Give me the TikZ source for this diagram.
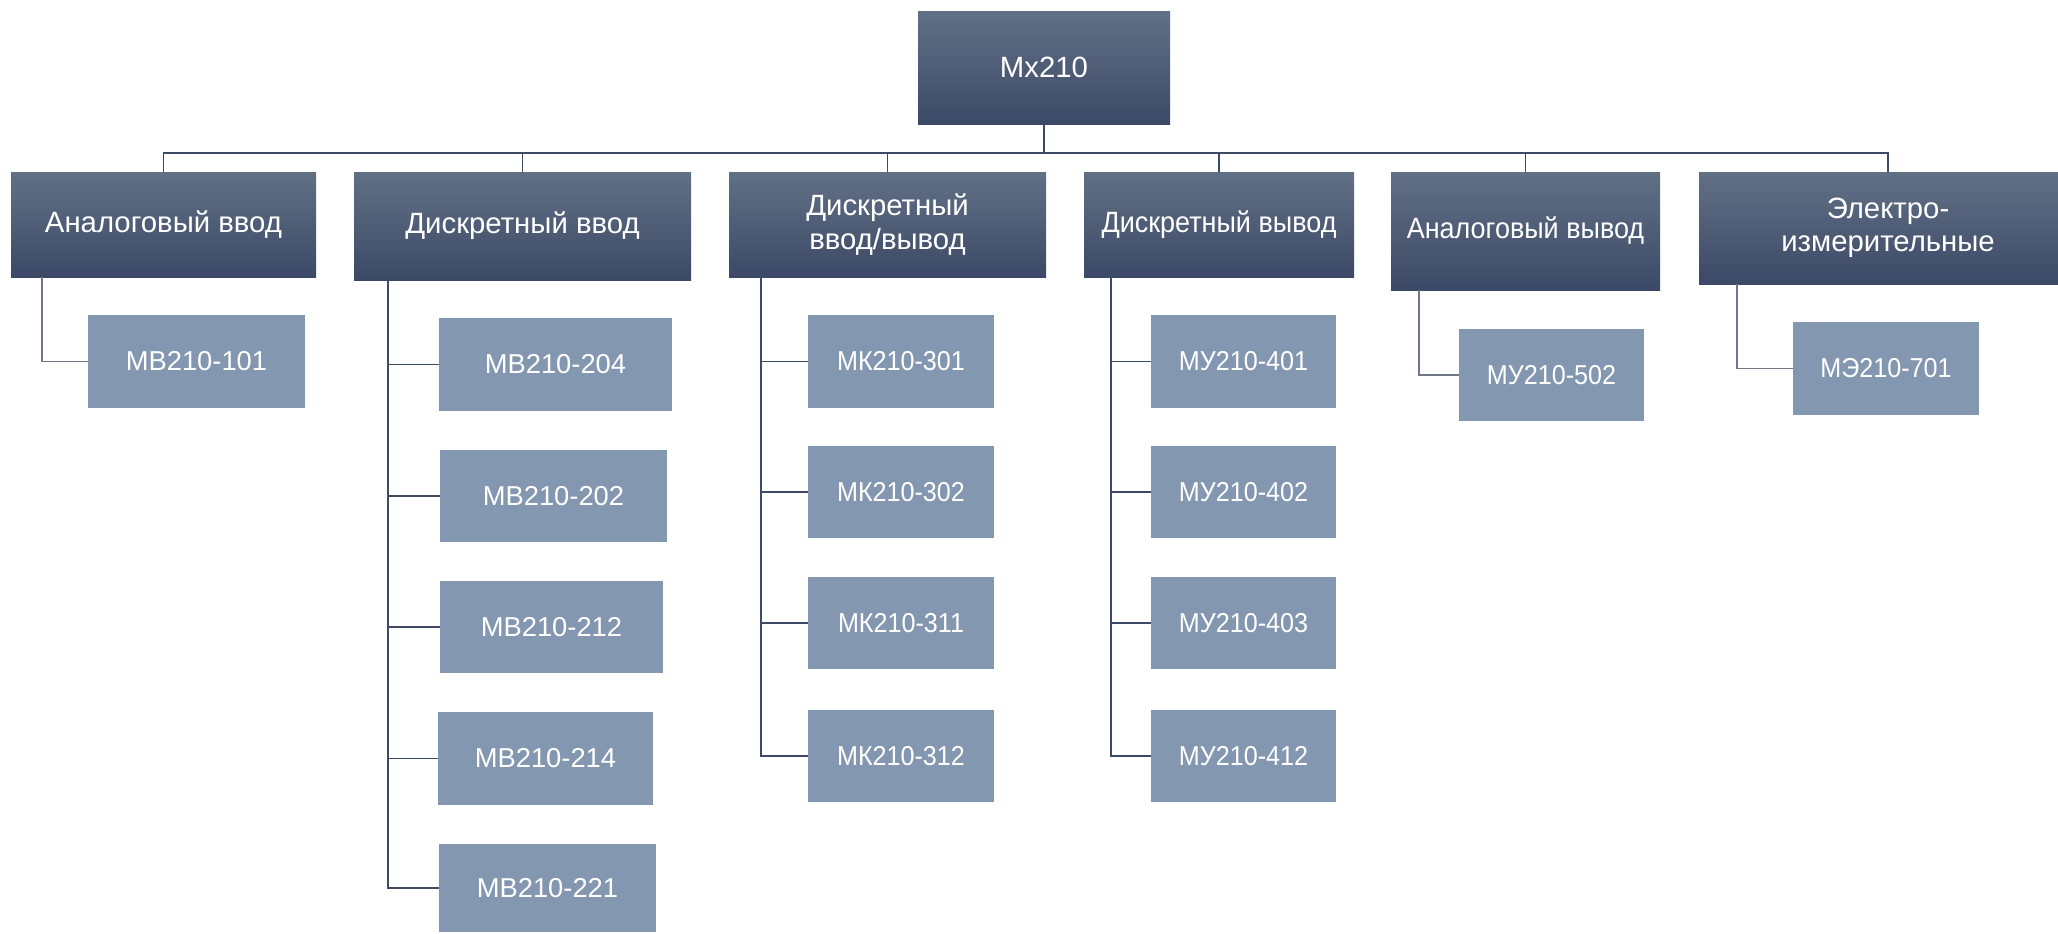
\documentclass[tikz,border=0pt]{standalone}
\usepackage{fontspec}
\setmainfont{Liberation Sans}
\newfontfamily\narrowfont[FakeStretch=0.92]{Liberation Sans}
\usepackage{tikz}
\definecolor{headtop}{HTML}{627086}
\definecolor{headbot}{HTML}{3B4966}
\definecolor{modfill}{HTML}{8497B0}
\definecolor{linedark}{HTML}{3D4A63}
\definecolor{linegray}{HTML}{6E7888}

\begin{document}
\begin{tikzpicture}[x=0.75pt, y=-0.75pt,
    every node/.style={inner sep=0pt, text=white, align=center},
    headbox/.style={top color=headtop, bottom color=headbot, draw=none,
      font=\fontsize{22}{25}\selectfont},
    modbox/.style={fill=modfill, draw=none, font=\fontsize{20.5}{24}\selectfont},
    narrow/.style={execute at begin node=\narrowfont},
    link/.style={draw=linedark, line width=1.4pt},
    linkgray/.style={draw=linegray, line width=1.4pt}]
      \useasboundingbox (0, 0) rectangle (2058, 933);
      % top and groups
      \node[headbox, minimum width=252*0.75pt, minimum height=113*0.75pt] (top) at (1044, 67.5) {Мх210};
      \node[headbox, minimum width=305*0.75pt, minimum height=105*0.75pt] (aiin) at (163.5, 224.5) {Аналоговый ввод};
      \node[headbox, minimum width=337*0.75pt, minimum height=108*0.75pt] (diin) at (522.5, 226) {Дискретный ввод};
      \node[headbox, minimum width=317*0.75pt, minimum height=105*0.75pt] (dio) at (887.5, 224.5) {Дискретный\\ввод/вывод};
      \node[headbox, narrow, minimum width=270*0.75pt, minimum height=105*0.75pt] (diout) at (1219, 224.5) {Дискретный вывод};
      \node[headbox, narrow, minimum width=269*0.75pt, minimum height=118*0.75pt] (aiout) at (1525.5, 231) {Аналоговый вывод};
      \node[headbox, minimum width=378*0.75pt, minimum height=112*0.75pt] (elec) at (1888, 228) {Электро-\\измерительные};
      % modules
      \node[modbox, minimum width=217*0.75pt, minimum height=93*0.75pt] (mv101) at (196.5, 361.5) {МВ210-101};
      \node[modbox, minimum width=233*0.75pt, minimum height=93*0.75pt] (mv204) at (555.5, 364.5) {МВ210-204};
      \node[modbox, minimum width=227*0.75pt, minimum height=92*0.75pt] (mv202) at (553.5, 496) {МВ210-202};
      \node[modbox, minimum width=223*0.75pt, minimum height=92*0.75pt] (mv212) at (551.5, 627) {МВ210-212};
      \node[modbox, minimum width=215*0.75pt, minimum height=93*0.75pt] (mv214) at (545.5, 758.5) {МВ210-214};
      \node[modbox, minimum width=217*0.75pt, minimum height=88*0.75pt] (mv221) at (547.5, 888) {МВ210-221};
      \node[modbox, narrow, minimum width=186*0.75pt, minimum height=93*0.75pt] (mk301) at (901, 361.5) {МК210-301};
      \node[modbox, narrow, minimum width=186*0.75pt, minimum height=92*0.75pt] (mk302) at (901, 492) {МК210-302};
      \node[modbox, narrow, minimum width=186*0.75pt, minimum height=92*0.75pt] (mk311) at (901, 623) {МК210-311};
      \node[modbox, narrow, minimum width=186*0.75pt, minimum height=92*0.75pt] (mk312) at (901, 756) {МК210-312};
      \node[modbox, narrow, minimum width=185*0.75pt, minimum height=93*0.75pt] (mu401) at (1243.5, 361.5) {МУ210-401};
      \node[modbox, narrow, minimum width=185*0.75pt, minimum height=92*0.75pt] (mu402) at (1243.5, 492) {МУ210-402};
      \node[modbox, narrow, minimum width=185*0.75pt, minimum height=92*0.75pt] (mu403) at (1243.5, 623) {МУ210-403};
      \node[modbox, narrow, minimum width=185*0.75pt, minimum height=92*0.75pt] (mu412) at (1243.5, 756) {МУ210-412};
      \node[modbox, narrow, minimum width=185*0.75pt, minimum height=92*0.75pt] (mu502) at (1551.5, 375) {МУ210-502};
      \node[modbox, narrow, minimum width=186*0.75pt, minimum height=93*0.75pt] (me701) at (1886, 368.5) {МЭ210-701};
      % bus
      \coordinate (bus) at (1044, 153);
      \draw[link] (top.south) -- (bus);
      \draw[link] (aiin.north) |- (bus) -| (elec.north);
      \foreach \g in {diin, dio, diout, aiout}
        \draw[link] (\g.north) -- (\g.north |- bus);
      % trunks
      \coordinate (t1) at (42, 0);
      \coordinate (t2) at (388, 0);
      \coordinate (t3) at (761, 0);
      \coordinate (t4) at (1111, 0);
      \coordinate (t5) at (1419, 0);
      \coordinate (t6) at (1737, 0);
      \draw[linkgray] (aiin.south -| t1) |- (mv101.west);
      \draw[link] (diin.south -| t2) |- (mv221.west);
      \foreach \m in {mv204, mv202, mv212, mv214}
        \draw[link] (\m.west) -- (\m.west -| t2);
      \draw[link] (dio.south -| t3) |- (mk312.west);
      \foreach \m in {mk301, mk302, mk311}
        \draw[link] (\m.west) -- (\m.west -| t3);
      \draw[link] (diout.south -| t4) |- (mu412.west);
      \foreach \m in {mu401, mu402, mu403}
        \draw[link] (\m.west) -- (\m.west -| t4);
      \draw[linkgray] (aiout.south -| t5) |- (mu502.west);
      \draw[linkgray] (elec.south -| t6) |- (me701.west);
    \end{tikzpicture}
\end{document}
